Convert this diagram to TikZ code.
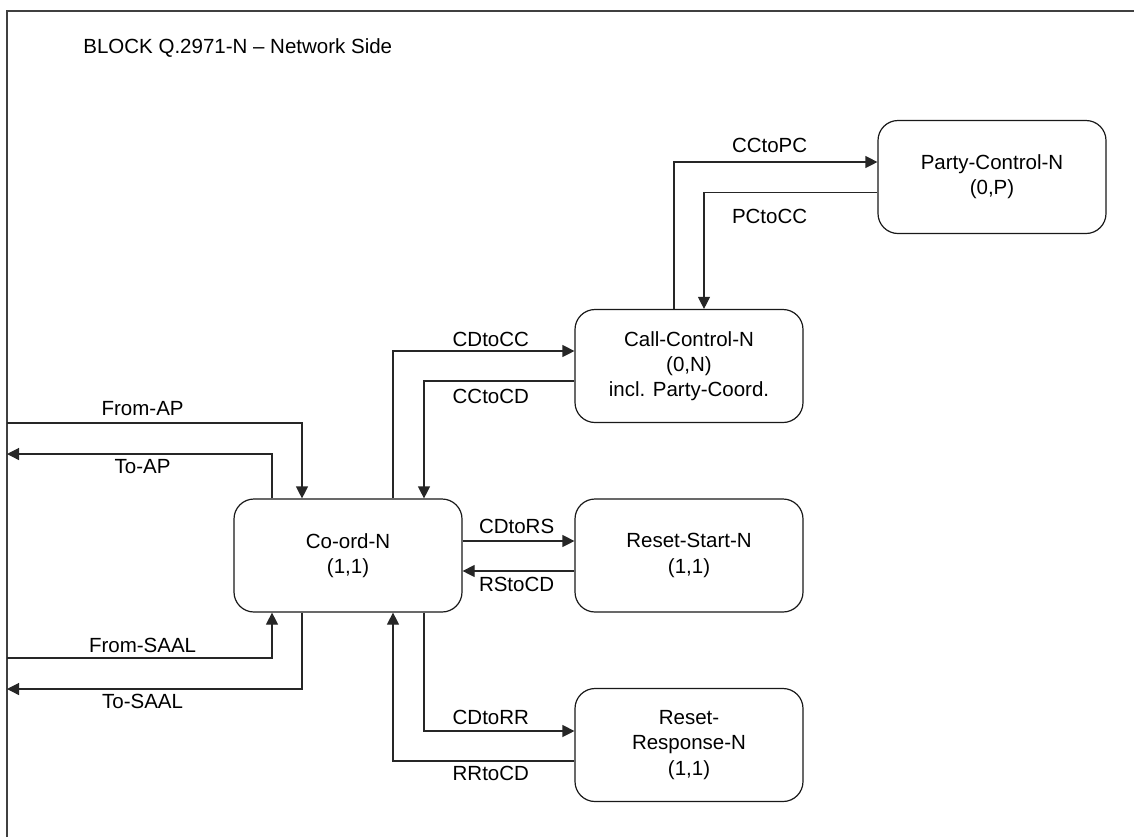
\documentclass[tikz,border=0pt]{standalone}
\usepackage{fontspec}
\setmainfont{Liberation Sans}
\usetikzlibrary{arrows.meta}

\begin{document}
\begin{tikzpicture}[x=0.5pt,y=-0.5pt,
    font=\fontsize{10.25}{12.6}\selectfont,
    block/.style={draw=black!90, line width=0.6pt, rounded corners=10pt, align=center,
                  minimum width=114pt, minimum height=56.5pt, inner sep=0pt},
    conn/.style={draw=black!85, line width=0.6pt, -{Triangle[length=6pt,width=6pt]}},
    sig/.style={inner sep=0pt}]
          \useasboundingbox (0,0) rectangle (1134,837);

          %Rahmen
          \draw[black!75, line width=0.9pt] (7,837) -- (7,11) -- (1134,11);
          \node[sig, anchor=west] (title) at (83,48) {BLOCK Q.2971-N -- Network Side};

          %Bloecke
          \node[block] (coord) at (348,555.5) {Co-ord-N\\(1,1)};
          \node[block] (rs) at (689,555.5) {Reset-Start-N\\(1,1)};
          \node[block] (cc) at (689,366) {Call-Control-N\\(0,N)\\incl. Party-Coord.};
          \node[block] (rr) at (689,745) {Reset-\\Response-N\\(1,1)};
          \node[block] (pc) at (992,177) {Party-Control-N\\(0,P)};

          %Enden am Rahmen
          \coordinate (fromap) at (7,423);
          \coordinate (toap) at (7,454);
          \coordinate (fromsaal) at (7,658);
          \coordinate (tosaal) at (7,689);

          %Signale links
          \draw[conn] (fromap) -| ([xshift=-23pt]coord.north);
          \draw[conn] ([xshift=-38pt]coord.north) |- (toap);
          \draw[conn] (fromsaal) -| ([xshift=-38pt]coord.south);
          \draw[conn] ([xshift=-23pt]coord.south) |- (tosaal);

          %Signale rechts
          \draw[conn] ([xshift=22.5pt]coord.north) |- ([yshift=7.5pt]cc.west);
          \draw[conn] ([yshift=-7.5pt]cc.west) -| ([xshift=38pt]coord.north);
          \draw[conn] ([yshift=7.25pt]coord.east) -- ([yshift=7.25pt]rs.west);
          \draw[conn] ([yshift=-7.75pt]rs.west) -- ([yshift=-7.75pt]coord.east);
          \draw[conn] ([xshift=38pt]coord.south) |- ([yshift=7pt]rr.west);
          \draw[conn] ([yshift=-8pt]rr.west) -| ([xshift=22.5pt]coord.south);
          \draw[conn] ([xshift=-7.5pt]cc.north) |- ([yshift=7.5pt]pc.west);
          \draw[conn] ([yshift=-7.75pt]pc.west) -| ([xshift=7.5pt]cc.north);

          %Beschriftungen
          \node[sig] (lfromap) at (142.6,409) {From-AP};
          \node[sig] (ltoap) at (142.6,467) {To-AP};
          \node[sig] (lfromsaal) at (142.6,645.7) {From-SAAL};
          \node[sig] (ltosaal) at (142.6,701) {To-SAAL};
          \node[sig] (lcdtocc) at (490.8,339) {CDtoCC};
          \node[sig] (lcctocd) at (490.8,396) {CCtoCD};
          \node[sig] (lcdtors) at (516.6,526.7) {CDtoRS};
          \node[sig] (lrstocd) at (516.6,584) {RStoCD};
          \node[sig] (lcdtorr) at (490.8,717) {CDtoRR};
          \node[sig] (lrrtocd) at (490.8,773) {RRtoCD};
          \node[sig] (lcctopc) at (769.6,145) {CCtoPC};
          \node[sig] (lpctocc) at (769.6,216) {PCtoCC};
\end{tikzpicture}
\end{document}
